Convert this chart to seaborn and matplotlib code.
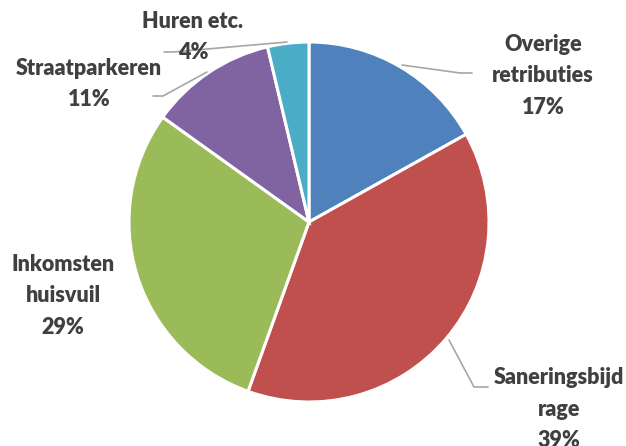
import matplotlib
matplotlib.use("Agg")
import matplotlib.pyplot as plt
import seaborn as sns

# data
labels = ["Overige\nretributies", "Saneringsbijd\nrage", "Inkomsten\nhuisvuil", "Straatparkeren", "Huren etc."]
values = [16.9, 38.6, 29.4, 11.4, 3.7]
pct_text = ["17%", "39%", "29%", "11%", "4%"]
colors = ["#4f81bd", "#c0504d", "#9bbb59", "#8064a2", "#4bacc6"]

sns.set_style("white")
plt.rcParams["font.family"] = ["Lato", "DejaVu Sans"]

W, H = 626, 446
CX, CY, R = 309, 222, 180   # pie centre / radius in pixels


def px(x, y):
    # pixel coords (from top-left) -> data coords
    return (x - CX) / R, (CY - y) / R


fig = plt.figure(figsize=(W / 100, H / 100), dpi=100)
ax = fig.add_axes([0, 0, 1, 1])
ax.pie(values, colors=colors, startangle=90, counterclock=False, radius=1,
       wedgeprops=dict(edgecolor="white", linewidth=2.2))
ax.set_xlim(-CX / R, (W - CX) / R)
ax.set_ylim((CY - H) / R, CY / R)
ax.set_aspect("auto")
ax.axis("off")

# label block centres and leader lines (pixels)
label_pos = [(543, 76), (559, 409), (63, 296), (89, 84), (193, 37)]
leaders = [
    [(402, 65), (460, 73), (472, 73)],
    [(449, 340), (474, 387), (488, 387)],
    None,
    [(207, 72), (163, 96), (153, 96)],
    [(287, 42), (173, 52), (164, 52)],
]

for lab, pct, pos, ld in zip(labels, pct_text, label_pos, leaders):
    if ld is not None:
        xs, ys = zip(*[px(*p) for p in ld])
        ax.plot(xs, ys, color="#a6a6a6", lw=1.2, zorder=3)
    x, y = px(*pos)
    ax.text(x, y, lab + "\n" + pct, ha="center", va="center", fontsize=15.5,
            fontweight="heavy", color="#404040", linespacing=1.6, zorder=4)

fig.savefig("out.png", dpi=100)
